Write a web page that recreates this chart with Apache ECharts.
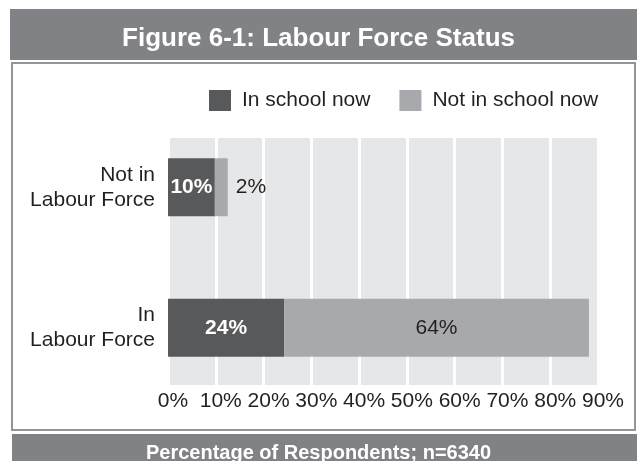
<!DOCTYPE html>
<html>
<head>
<meta charset="utf-8">
<script src="https://cdn.jsdelivr.net/npm/echarts@6/dist/echarts.min.js"></script>
<style>
  html, body { margin: 0; padding: 0; background: #fff; }
  #main { width: 637px; height: 461px; }
</style>
</head>
<body>
<div id="main"></div>
<script>
// chart data, bottom category first
var categories = ['In\nLabour Force', 'Not in\nLabour Force']
var seriesNames = ['In school now', 'Not in school now']
var inSchool = [24.3, 9.8]
var notInSchool = [63.8, 2.7]
var inSchoolLabels = ['24%', '10%']
var notInSchoolLabels = ['64%', '2%']
var xTicks = [0, 10, 20, 30, 40, 50, 60, 70, 80, 90]

var font = 'Liberation Sans, Arial, Helvetica, sans-serif'
var ink = '#231f20'
var barBand = '#808285'

var charts = echarts.init(document.getElementById('main'))

// small bars get their label outside, the rest sit inside
var notInData = notInSchool.map(function (v, i) {
  return {
    value: v,
    label: {
      position: v < 5 ? 'right' : 'inside',
      distance: 8,
      formatter: notInSchoolLabels[i]
    }
  }
})

var option = {
  animation: false,
  textStyle: { fontFamily: font },
  title: [
    {
      text: 'Figure 6-1: Labour Force Status',
      left: 'center',
      top: 21,
      textStyle: { color: '#fff', fontSize: 26, fontWeight: 'bold', fontFamily: font }
    },
    {
      text: 'Percentage of Respondents; n=6340',
      left: 'center',
      top: 438,
      textStyle: { color: '#fff', fontSize: 20, fontWeight: 'bold', fontFamily: font }
    }
  ],
  graphic: [
    { type: 'rect', z: -10, shape: { x: 10, y: 9, width: 627, height: 51 }, style: { fill: barBand } },
    { type: 'rect', z: -10, shape: { x: 12, y: 63, width: 623, height: 367 }, style: { fill: '#fff', stroke: '#939598', lineWidth: 2 } },
    { type: 'rect', z: -10, shape: { x: 12, y: 434, width: 625, height: 27 }, style: { fill: barBand } }
  ],
  legend: {
    data: seriesNames,
    left: 209,
    top: 90,
    padding: 0,
    icon: 'rect',
    itemWidth: 22,
    itemHeight: 21,
    itemGap: 29,
    textStyle: { fontSize: 21, color: ink, fontFamily: font, padding: [0, 0, 0, 6] }
  },
  grid: [
    { left: 168, right: 39, top: 138, bottom: 76, show: true, backgroundColor: '#e6e7e8', borderWidth: 0 },
    { left: 168, right: 39, top: 117, bottom: 63 }
  ],
  xAxis: [
    {
      gridIndex: 0,
      type: 'value',
      min: xTicks[0],
      max: xTicks[xTicks.length - 1],
      interval: 10,
      axisLine: { show: false },
      axisTick: { show: false },
      splitLine: { lineStyle: { color: '#fff', width: 3 } },
      axisLabel: { formatter: '{value}%', fontSize: 21, color: ink, margin: 6, padding: [0, 0, 0, 10], fontFamily: font }
    },
    {
      gridIndex: 1,
      type: 'value',
      min: xTicks[0],
      max: xTicks[xTicks.length - 1],
      show: false
    }
  ],
  yAxis: [
    { gridIndex: 0, type: 'value', show: false },
    {
      gridIndex: 1,
      type: 'category',
      data: categories,
      axisLine: { show: false },
      axisTick: { show: false },
      axisLabel: { fontSize: 21, color: ink, margin: 13, lineHeight: 25, align: 'right', fontFamily: font }
    }
  ],
  series: [
    {
      name: seriesNames[0],
      type: 'bar',
      stack: 'total',
      xAxisIndex: 1,
      yAxisIndex: 1,
      barWidth: 58,
      itemStyle: { color: '#58595b' },
      label: {
        show: true,
        position: 'inside',
        color: '#fff',
        fontSize: 21,
        fontWeight: 'bold',
        fontFamily: font,
        formatter: function (p) { return inSchoolLabels[p.dataIndex] }
      },
      data: inSchool
    },
    {
      name: seriesNames[1],
      type: 'bar',
      stack: 'total',
      xAxisIndex: 1,
      yAxisIndex: 1,
      barWidth: 58,
      itemStyle: { color: '#a7a9ac' },
      label: { show: true, color: ink, fontSize: 21, fontFamily: font },
      data: notInData
    }
  ]
}

charts.setOption(option)
</script>
</body>
</html>
